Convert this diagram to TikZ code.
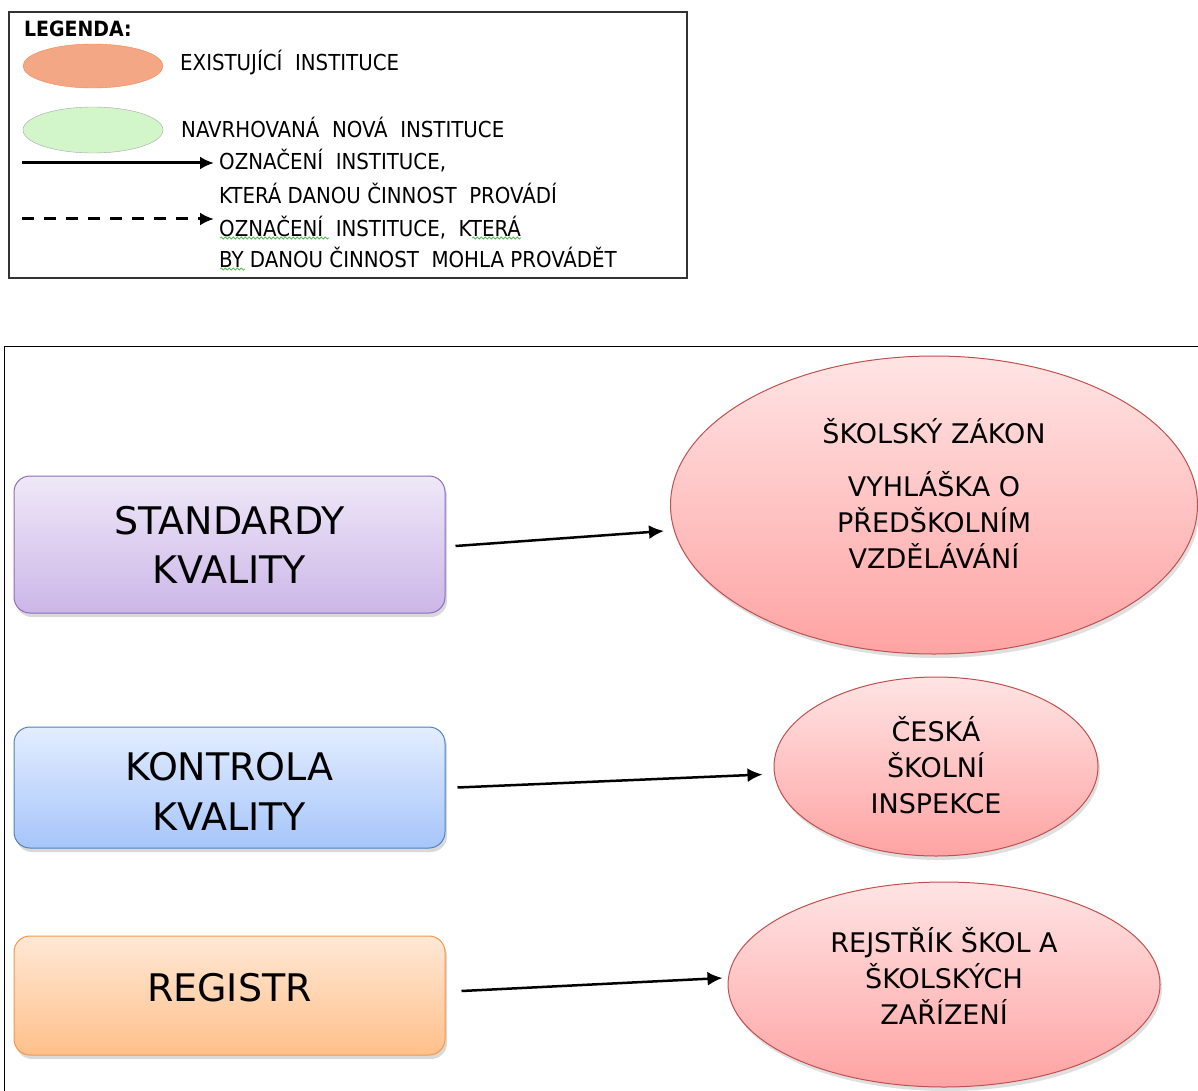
\documentclass[tikz,border=0pt]{standalone}
\usepackage{fontspec}
\setmainfont{DejaVu Sans}
\newfontfamily\legfont{DejaVu Sans Condensed}
\usepackage{tikz}
\usetikzlibrary{arrows.meta,shapes.geometric,shadows,decorations.pathmorphing}
\definecolor{purpletop}{HTML}{EFE8F8}
\definecolor{purplebot}{HTML}{CCB6E8}
\definecolor{purpleline}{HTML}{8E6BBF}
\definecolor{bluetop}{HTML}{E3EDFF}
\definecolor{bluebot}{HTML}{A6C5FA}
\definecolor{blueline}{HTML}{4F81BD}
\definecolor{orangetop}{HTML}{FFE8D6}
\definecolor{orangebot}{HTML}{FFC08A}
\definecolor{orangeline}{HTML}{F79646}
\definecolor{redtop}{HTML}{FFE4E4}
\definecolor{redbot}{HTML}{FFA3A3}
\definecolor{redline}{HTML}{C0504D}
\definecolor{legorange}{HTML}{F4A784}
\definecolor{legorangeline}{HTML}{F08A50}
\definecolor{leggreen}{HTML}{D2F5CA}
\definecolor{spellgreen}{HTML}{5CB85C}
\tikzstyle{box}=[rounded corners=16pt,line width=1pt,minimum width=431pt,align=center,font=\fontsize{38}{49}\selectfont,drop shadow={shadow xshift=2pt,shadow yshift=-4pt,opacity=0.3}]
\tikzstyle{inst}=[ellipse,draw=redline,line width=1pt,top color=redtop,bottom color=redbot,inner sep=0pt,drop shadow={shadow xshift=2pt,shadow yshift=-4pt,opacity=0.25}]
\tikzstyle{insttext}=[align=center,inner sep=0pt,font=\fontsize{27}{36}\selectfont]
\tikzstyle{line}=[draw,-{Latex[length=15pt,width=14pt]},line width=2.5pt]
\tikzstyle{legline}=[draw,-{Latex[length=14pt,width=13pt]},line width=3pt]
\tikzstyle{legtext}=[anchor=west,inner sep=0pt,align=left,font=\legfont\fontsize{22}{34}\selectfont]
\tikzstyle{spell}=[spellgreen,line width=0.8pt,decorate,decoration={snake,amplitude=1pt,segment length=4pt}]

\begin{document}
\begin{tikzpicture}[x=1pt,y=-1pt]
  \useasboundingbox (0,0) rectangle (1198,1091);

  % legend
  \node[draw=black!80,line width=1.5pt,minimum width=678pt,minimum height=266pt,inner sep=0pt] (legend) at (348,145) {};
  \node[legtext,font=\legfont\bfseries\fontsize{21}{25}\selectfont] (legtitle) at (24,29) {LEGENDA:};
  \node[ellipse,draw=legorangeline,fill=legorange,minimum width=140pt,minimum height=44pt,inner sep=0pt] (exist) at (93,66) {};
  \node[legtext] (existtxt) at (180,63) {EXISTUJÍCÍ~ INSTITUCE};
  \node[ellipse,draw=black!35,fill=leggreen,minimum width=140pt,minimum height=46pt,inner sep=0pt] (newinst) at (93,130) {};
  \node[legtext] (newtxt) at (181,127) {NAVRHOVANÁ~ NOVÁ~ INSTITUCE};
  \node[legtext] (soltxt) at (219,176) {OZNAČENÍ~ INSTITUCE,\\ KTERÁ DANOU ČINNOST~ PROVÁDÍ};
  \node[legtext,font=\legfont\fontsize{22}{31}\selectfont] (dashtxt) at (219,241.5) {OZNAČENÍ~ INSTITUCE,~ KTERÁ\\ BY DANOU ČINNOST~ MOHLA PROVÁDĚT};
  \coordinate (solstart) at (22,163);
  \coordinate (solend) at (214,163);
  \coordinate (dashstart) at (22,219);
  \coordinate (dashend) at (214,219);
  \path [legline] (solstart) -- (solend);
  \path [legline,dash pattern=on 12pt off 10pt] (dashstart) -- (dashend);
  % spell check marks
  \draw[spell] (220,238) -- (329,238);
  \draw[spell] (472,238) -- (521,238);
  \draw[spell] (220,269) -- (245,269);

  % main frame
  \draw[line width=1pt] (4,1091) -- (4,346) -- (1198,346);

  % activities
  \node[box,draw=purpleline,top color=purpletop,bottom color=purplebot,minimum height=137pt] (standard) at (229.5,544.5) {STANDARDY\\KVALITY};
  \node[box,draw=blueline,top color=bluetop,bottom color=bluebot,minimum height=121pt] (kontrola) at (229.5,787.5) {};
  \node[insttext,font=\fontsize{38}{50}\selectfont] (kontrolatxt) at ([yshift=-4pt]kontrola.center) {KONTROLA\\KVALITY};
  \node[box,draw=orangeline,top color=orangetop,bottom color=orangebot,minimum height=119pt] (registr) at (229.5,995.5) {};
  \node[insttext,font=\fontsize{38}{49}\selectfont] (registrtxt) at ([yshift=8pt]registr.center) {REGISTR};

  % institutions
  \node[inst,minimum width=527pt,minimum height=298pt] (zakon) at (934,505) {};
  \node[insttext] (zakontxt) at ([yshift=12pt]zakon.center) {ŠKOLSKÝ ZÁKON\\[17pt]VYHLÁŠKA O\\PŘEDŠKOLNÍM\\VZDĚLÁVÁNÍ};
  \node[inst,minimum width=324pt,minimum height=179pt] (csi) at (936,766.5) {};
  \node[insttext] (csitxt) at ([yshift=1pt]csi.center) {ČESKÁ\\ŠKOLNÍ\\INSPEKCE};
  \node[inst,minimum width=432pt,minimum height=205pt] (rejstrik) at (944,984.5) {};
  \node[insttext] (rejstriktxt) at ([yshift=9pt]rejstrik.center) {REJSTŘÍK ŠKOL A\\ŠKOLSKÝCH\\ZAŘÍZENÍ};

  \path [line] ([xshift=10pt,yshift=-1.5pt]standard.east) -- ([xshift=-6pt,yshift=-26pt]zakon.west);
  \path [line] ([xshift=12pt]kontrola.east) -- ([xshift=-11pt,yshift=-8pt]csi.west);
  \path [line] ([xshift=16pt,yshift=4.5pt]registr.east) -- ([xshift=-5pt,yshift=6.5pt]rejstrik.west);
\end{tikzpicture}
\end{document}
